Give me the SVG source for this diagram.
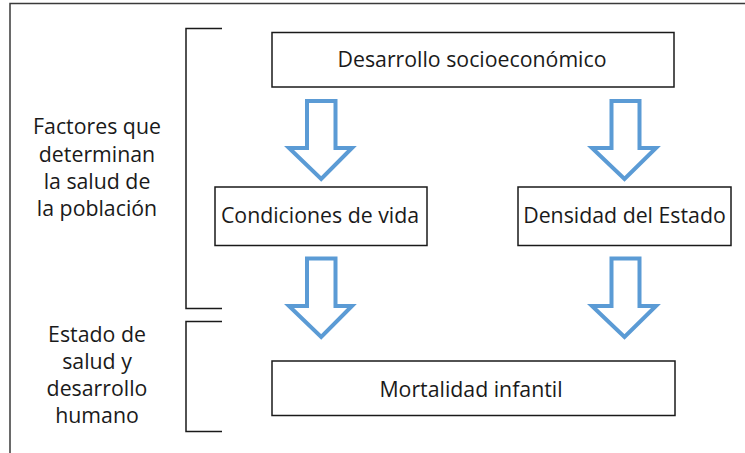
<svg xmlns="http://www.w3.org/2000/svg" width="745" height="453" viewBox="0 0 745 453">
<style>
.frame{fill:none;stroke:#3a3a3a;stroke-width:1.5}
.box{fill:#fff;stroke:#1a1a1a;stroke-width:1.5}
.br{fill:none;stroke:#1a1a1a;stroke-width:1.5}
.arr{fill:#fff;stroke:#5b9bd5;stroke-width:4;stroke-linejoin:miter}
text{font-family:"Open Sans","Noto Sans","DejaVu Sans",sans-serif;font-size:21.3px;fill:#1a1a1a;text-anchor:middle}
</style>
<rect width="745" height="453" fill="#fff"/>
<path class="frame" d="M10 460 V3.5 H750"/>
<g id="bracket-factores"><path class="br" d="M222 28.5 H186 V308.5 H222"/></g>
<g id="bracket-estado"><path class="br" d="M222 321.5 H186 V431.5 H222"/></g>
<g id="label-factores">
<text x="97" y="134">Factores que</text>
<text x="97" y="162">determinan</text>
<text x="97" y="189">la salud de</text>
<text x="97" y="216">la población</text>
</g>
<g id="label-estado">
<text x="97" y="342">Estado de</text>
<text x="97" y="369">salud y</text>
<text x="97" y="396">desarrollo</text>
<text x="97" y="423">humano</text>
</g>
<g id="desarrollo"><rect class="box" x="272" y="32.5" width="402" height="54.5"/><text x="472" y="67">Desarrollo socioeconómico</text></g>
<g id="condiciones"><rect class="box" x="215" y="187" width="212" height="58.5"/><text x="320" y="223">Condiciones de vida</text></g>
<g id="densidad"><rect class="box" x="518" y="187" width="213" height="58.5"/><text x="624.5" y="223">Densidad del Estado</text></g>
<g id="mortalidad"><rect class="box" x="272" y="361" width="403" height="54.5"/><text x="471" y="397">Mortalidad infantil</text></g>
<g id="connectors">
<path class="arr" d="M307 101 H335.5 V148 H352 L321.2 179 L289 148 H307 Z"/>
<path class="arr" d="M611.5 101 H639.5 V148 H656 L624.5 179 L592 148 H611.5 Z"/>
<path class="arr" d="M307 258.5 H335.5 V306 H352 L321.2 337 L289 306 H307 Z"/>
<path class="arr" d="M611.5 258.5 H639.5 V306 H656 L624.5 337 L592 306 H611.5 Z"/>
</g>
</svg>
